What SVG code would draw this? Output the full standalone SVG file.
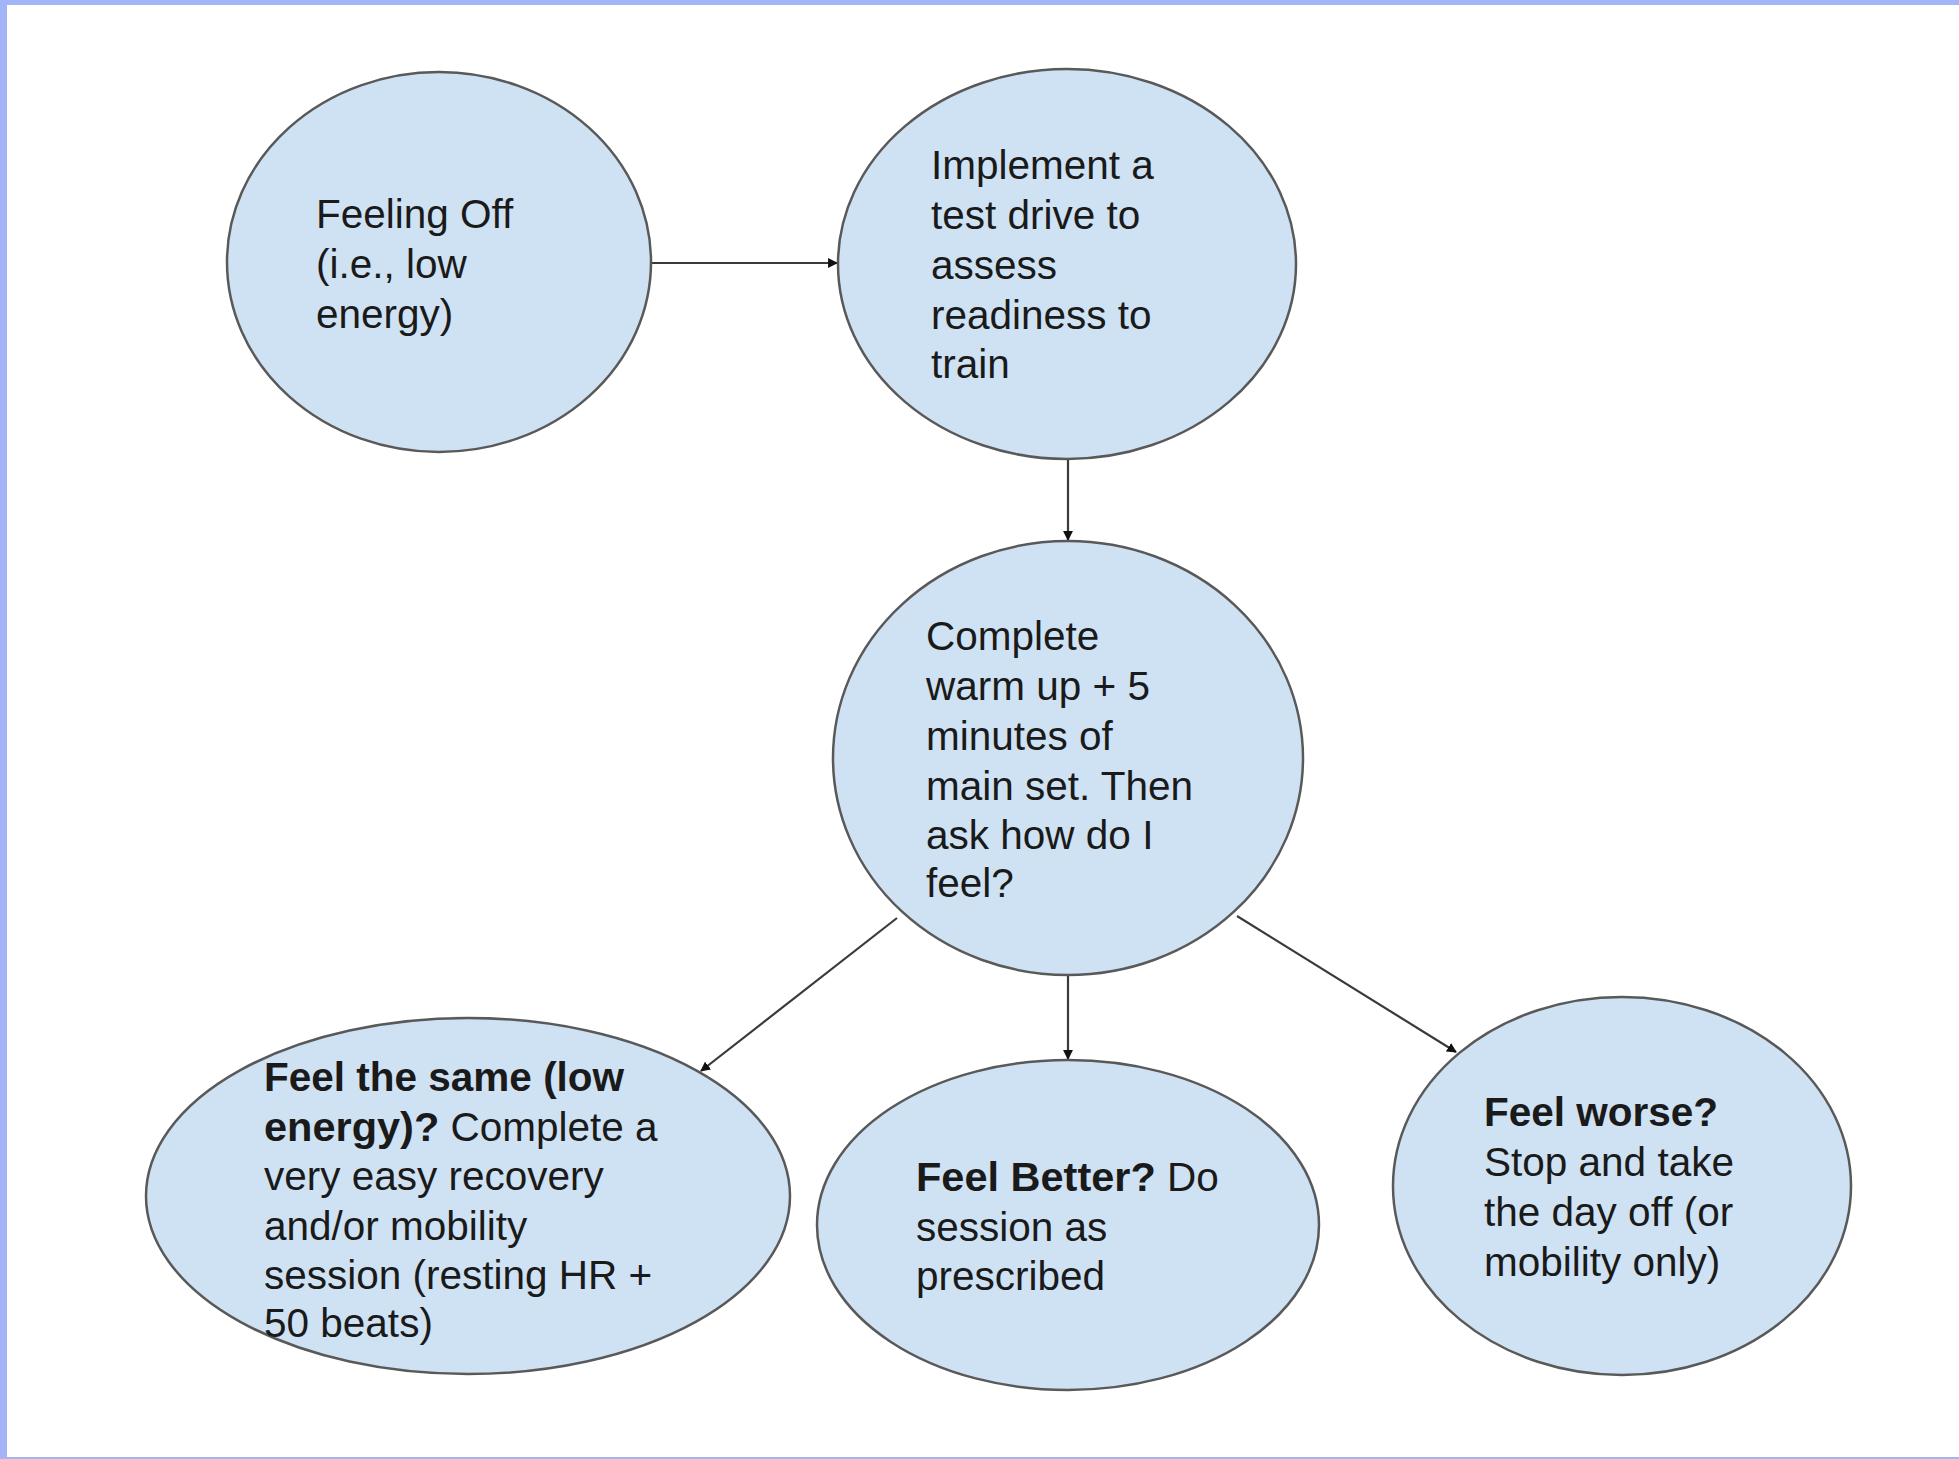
<svg xmlns="http://www.w3.org/2000/svg" width="1959" height="1459" viewBox="0 0 1959 1459">
<defs>
<marker id="ah" viewBox="0 0 10 10" refX="9" refY="5" markerWidth="4.5" markerHeight="4.5" orient="auto" markerUnits="strokeWidth">
<path d="M0,0 L10,5 L0,10 z" fill="#111"/>
</marker>
<style>
.node ellipse{fill:#cfe2f3;stroke:#595959;stroke-width:2.5}
.node text{font-family:"Liberation Sans",Arial,sans-serif;font-size:40.5px;fill:#1a1a1a}
.b{font-weight:bold;font-size:41.5px}
.conn line{stroke:#3a3a3a;stroke-width:2.2;marker-end:url(#ah)}
</style>
</defs>
<rect x="0" y="0" width="1959" height="1459" fill="#ffffff"/>
<rect x="0" y="0" width="7" height="1459" fill="#a4b5f7"/>
<rect x="0" y="0" width="1959" height="5" fill="#a4b5f7"/>
<rect x="0" y="1457" width="1959" height="2" fill="#a4b5f7"/>
<g id="connectors" class="conn">
<line x1="651" y1="263" x2="837" y2="263"/>
<line x1="1068" y1="459" x2="1068" y2="540"/>
<line x1="897" y1="918" x2="701" y2="1071"/>
<line x1="1068" y1="976" x2="1068" y2="1059"/>
<line x1="1237" y1="916" x2="1456" y2="1052"/>
</g>
<g id="n1" class="node">
<ellipse cx="439" cy="262" rx="212" ry="190"/>
<text x="316" y="228">Feeling Off</text>
<text x="316" y="278">(i.e., low</text>
<text x="316" y="328">energy)</text>
</g>
<g id="n2" class="node">
<ellipse cx="1067" cy="264" rx="229" ry="195"/>
<text x="931" y="179">Implement a</text>
<text x="931" y="229">test drive to</text>
<text x="931" y="279">assess</text>
<text x="931" y="329">readiness to</text>
<text x="931" y="378">train</text>
</g>
<g id="n3" class="node">
<ellipse cx="1068" cy="758" rx="235" ry="217"/>
<text x="926" y="650">Complete</text>
<text x="926" y="700">warm up + 5</text>
<text x="926" y="750">minutes of</text>
<text x="926" y="800">main set. Then</text>
<text x="926" y="849">ask how do I</text>
<text x="926" y="897">feel?</text>
</g>
<g id="n4" class="node">
<ellipse cx="468" cy="1196" rx="322" ry="178"/>
<text x="264" y="1091" class="b">Feel the same (low</text>
<text x="264" y="1141"><tspan class="b">energy)?</tspan> Complete a</text>
<text x="264" y="1190">very easy recovery</text>
<text x="264" y="1240">and/or mobility</text>
<text x="264" y="1289">session (resting HR +</text>
<text x="264" y="1337">50 beats)</text>
</g>
<g id="n5" class="node">
<ellipse cx="1068" cy="1225" rx="251" ry="165"/>
<text x="916" y="1191"><tspan class="b">Feel Better?</tspan> Do</text>
<text x="916" y="1241">session as</text>
<text x="916" y="1290">prescribed</text>
</g>
<g id="n6" class="node">
<ellipse cx="1622" cy="1186" rx="229" ry="189"/>
<text x="1484" y="1126" class="b">Feel worse?</text>
<text x="1484" y="1176">Stop and take</text>
<text x="1484" y="1226">the day off (or</text>
<text x="1484" y="1276">mobility only)</text>
</g>
</svg>
